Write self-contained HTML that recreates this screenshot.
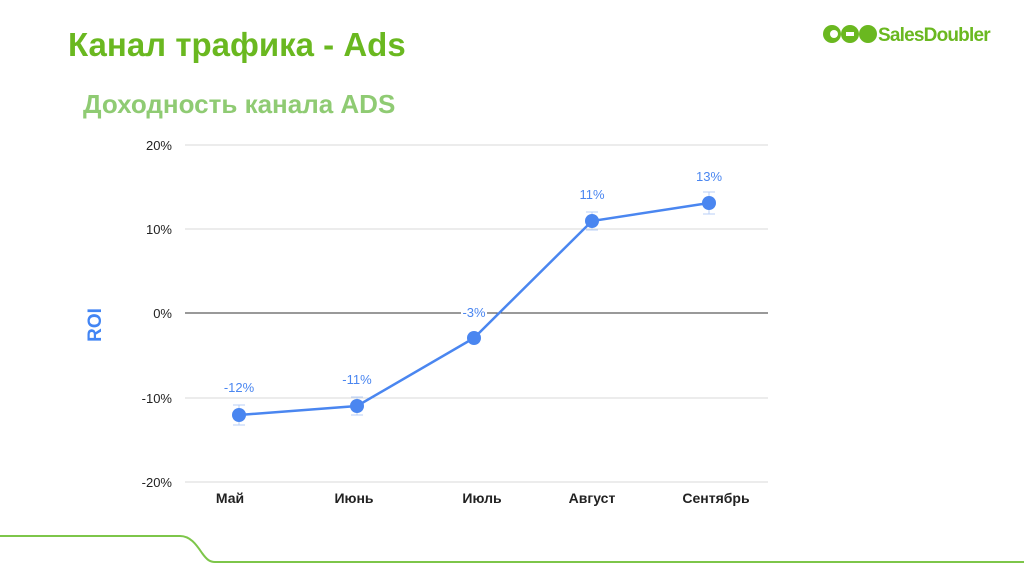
<!DOCTYPE html>
<html><head><meta charset="utf-8"><style>
body{margin:0;width:1024px;height:576px;background:#fff;overflow:hidden;font-family:"Liberation Sans",sans-serif}
</style></head><body>
<svg width="1024" height="576" xmlns="http://www.w3.org/2000/svg" font-family="Liberation Sans, sans-serif">
<text x="68" y="56" font-size="33" font-weight="bold" fill="#6ab820">Канал трафика - Ads</text>
<text x="83" y="113" font-size="26" font-weight="bold" fill="#8fcb73">Доходность канала ADS</text>
<g fill="#6ab820">
<circle cx="832" cy="34" r="9"/><circle cx="850" cy="34" r="9"/><circle cx="868" cy="34" r="9"/>
<circle cx="834" cy="34" r="4" fill="#fff"/><rect x="846" y="32" width="8" height="4" fill="#fff"/>
<text x="878" y="41" font-size="19" font-weight="bold" letter-spacing="-0.8" fill="#6ab820">SalesDoubler</text>
</g>
<path d="M0 536 H180 C190 536 196 544 202 553 C207 560 210 562 215 562 H1024" stroke="#7dc64a" stroke-width="2" fill="none"/>
<g stroke="#d9d9d9" stroke-width="1">
<line x1="185" y1="145" x2="768" y2="145"/><line x1="185" y1="229" x2="768" y2="229"/>
<line x1="185" y1="398" x2="768" y2="398"/><line x1="185" y1="482" x2="768" y2="482"/>
</g>
<line x1="185" y1="313" x2="768" y2="313" stroke="#333" stroke-width="1"/>
<g font-size="13" fill="#222" text-anchor="end">
<text x="172" y="150">20%</text><text x="172" y="234">10%</text><text x="172" y="318">0%</text>
<text x="172" y="403">-10%</text><text x="172" y="487">-20%</text>
</g>
<text transform="translate(101,325) rotate(-90)" font-size="19" font-weight="bold" fill="#4285f4" text-anchor="middle">ROI</text>
<g font-size="14" font-weight="bold" fill="#222" text-anchor="middle">
<text x="230" y="503">Май</text><text x="354" y="503">Июнь</text><text x="482" y="503">Июль</text><text x="592" y="503">Август</text><text x="716" y="503">Сентябрь</text>
</g>
<g stroke="#b8cff7" stroke-width="1">
<path d="M239 405V425M233 405H245M233 425H245"/>
<path d="M357 397V415M351 397H363M351 415H363"/>
<path d="M592 212V230M586 212H598M586 230H598"/>
<path d="M709 192V214M703 192H715M703 214H715"/>
</g>
<polyline points="239,415 357,406 474,338 592,221 709,203" fill="none" stroke="#4a86f0" stroke-width="2.5"/>
<g fill="#4a86f0">
<circle cx="239" cy="415" r="7"/><circle cx="357" cy="406" r="7"/><circle cx="474" cy="338" r="7"/><circle cx="592" cy="221" r="7"/><circle cx="709" cy="203" r="7"/>
</g>
<rect x="461" y="305" width="26" height="13" fill="#fff"/>
<g font-size="13" fill="#4a86f0" text-anchor="middle">
<text x="239" y="392">-12%</text><text x="357" y="384">-11%</text><text x="474" y="317">-3%</text><text x="592" y="199">11%</text><text x="709" y="181">13%</text>
</g>
</svg>
</body></html>
